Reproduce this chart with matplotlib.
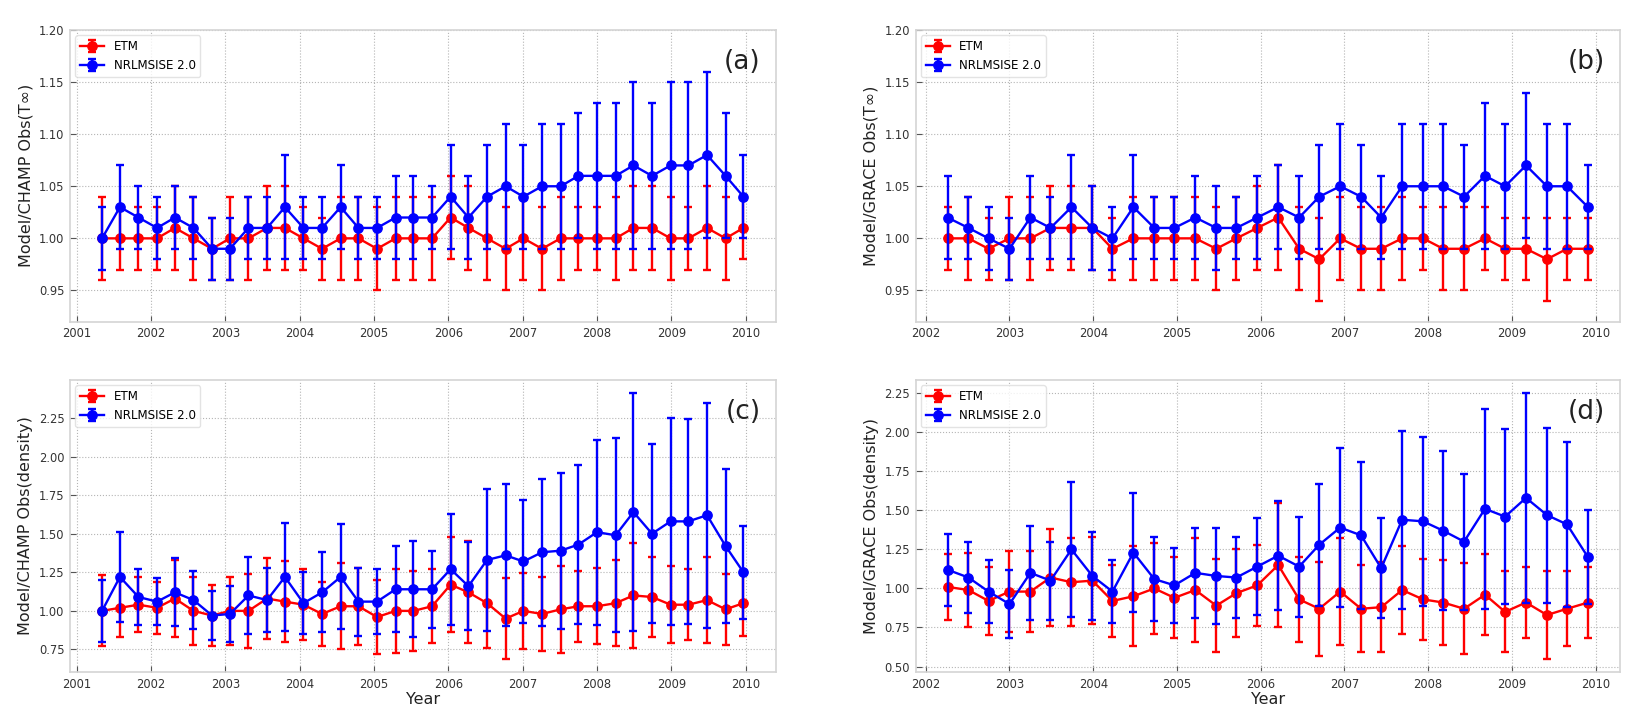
import matplotlib
matplotlib.use("Agg")
import matplotlib.pyplot as plt
import numpy as np

# ---------------- data ----------------
x_champ = [2001.34, 2001.58, 2001.83, 2002.08, 2002.32, 2002.57, 2002.82, 2003.06, 2003.31,
           2003.56, 2003.80, 2004.05, 2004.30, 2004.55, 2004.79, 2005.04, 2005.29, 2005.53,
           2005.78, 2006.03, 2006.27, 2006.52, 2006.77, 2007.01, 2007.26, 2007.51, 2007.75,
           2008.00, 2008.25, 2008.49, 2008.74, 2008.99, 2009.23, 2009.48, 2009.73, 2009.97]
x_grace = [2002.26, 2002.51, 2002.75, 2003.00, 2003.25, 2003.49, 2003.74, 2003.99, 2004.23,
           2004.48, 2004.73, 2004.97, 2005.22, 2005.47, 2005.71, 2005.96, 2006.21, 2006.46,
           2006.70, 2006.95, 2007.20, 2007.44, 2007.69, 2007.94, 2008.18, 2008.43, 2008.68,
           2008.92, 2009.17, 2009.42, 2009.66, 2009.91]

# (a) CHAMP temperature
a_etm = [1.00, 1.00, 1.00, 1.00, 1.01, 1.00, 0.99, 1.00, 1.00, 1.01, 1.01, 1.00, 0.99, 1.00, 1.00, 0.99,
         1.00, 1.00, 1.00, 1.02, 1.01, 1.00, 0.99, 1.00, 0.99, 1.00, 1.00, 1.00, 1.00, 1.01, 1.01, 1.00,
         1.00, 1.01, 1.00, 1.01]
a_etm_err = [0.04, 0.03, 0.03, 0.03, 0.04, 0.04, 0.03, 0.04, 0.04, 0.04, 0.04, 0.03, 0.03, 0.04, 0.04, 0.04,
             0.04, 0.04, 0.04, 0.04, 0.04, 0.04, 0.04, 0.04, 0.04, 0.04, 0.03, 0.03, 0.04, 0.04, 0.04, 0.04,
             0.03, 0.04, 0.04, 0.03]
a_nrl = [1.00, 1.03, 1.02, 1.01, 1.02, 1.01, 0.99, 0.99, 1.01, 1.01, 1.03, 1.01, 1.01, 1.03, 1.01, 1.01,
         1.02, 1.02, 1.02, 1.04, 1.02, 1.04, 1.05, 1.04, 1.05, 1.05, 1.06, 1.06, 1.06, 1.07, 1.06, 1.07,
         1.07, 1.08, 1.06, 1.04]
a_nrl_err = [0.03, 0.04, 0.03, 0.03, 0.03, 0.03, 0.03, 0.03, 0.03, 0.03, 0.05, 0.03, 0.03, 0.04, 0.03, 0.03,
             0.04, 0.04, 0.03, 0.05, 0.04, 0.05, 0.06, 0.05, 0.06, 0.06, 0.06, 0.07, 0.07, 0.08, 0.07, 0.08,
             0.08, 0.08, 0.06, 0.04]

# (b) GRACE temperature
b_etm = [1.00, 1.00, 0.99, 1.00, 1.00, 1.01, 1.01, 1.01, 0.99, 1.00, 1.00, 1.00, 1.00, 0.99, 1.00, 1.01,
         1.02, 0.99, 0.98, 1.00, 0.99, 0.99, 1.00, 1.00, 0.99, 0.99, 1.00, 0.99, 0.99, 0.98, 0.99, 0.99]
b_etm_err = [0.03, 0.04, 0.03, 0.04, 0.04, 0.04, 0.04, 0.04, 0.03, 0.04, 0.04, 0.04, 0.04, 0.04, 0.04, 0.04,
             0.05, 0.04, 0.04, 0.04, 0.04, 0.04, 0.04, 0.03, 0.04, 0.04, 0.03, 0.03, 0.03, 0.04, 0.03, 0.03]
b_nrl = [1.02, 1.01, 1.00, 0.99, 1.02, 1.01, 1.03, 1.01, 1.00, 1.03, 1.01, 1.01, 1.02, 1.01, 1.01, 1.02,
         1.03, 1.02, 1.04, 1.05, 1.04, 1.02, 1.05, 1.05, 1.05, 1.04, 1.06, 1.05, 1.07, 1.05, 1.05, 1.03]
b_nrl_err = [0.04, 0.03, 0.03, 0.03, 0.04, 0.03, 0.05, 0.04, 0.03, 0.05, 0.03, 0.03, 0.04, 0.04, 0.03, 0.04,
             0.04, 0.04, 0.05, 0.06, 0.05, 0.04, 0.06, 0.06, 0.06, 0.05, 0.07, 0.06, 0.07, 0.06, 0.06, 0.04]

# (c) CHAMP density
c_etm = [1.00, 1.02, 1.04, 1.02, 1.08, 1.00, 0.97, 1.00, 1.00, 1.08, 1.06, 1.04, 0.98, 1.03, 1.03, 0.96,
         1.00, 1.00, 1.03, 1.17, 1.12, 1.05, 0.95, 1.00, 0.98, 1.01, 1.03, 1.03, 1.05, 1.10, 1.09, 1.04,
         1.04, 1.07, 1.01, 1.05]
c_etm_err = [0.23, 0.19, 0.18, 0.17, 0.25, 0.22, 0.20, 0.22, 0.24, 0.26, 0.26, 0.23, 0.21, 0.28, 0.25, 0.24,
             0.27, 0.26, 0.24, 0.31, 0.33, 0.29, 0.26, 0.245, 0.24, 0.28, 0.23, 0.245, 0.28, 0.34, 0.26, 0.25,
             0.23, 0.28, 0.23, 0.21]
c_nrl = [1.00, 1.22, 1.09, 1.06, 1.12, 1.07, 0.97, 0.98, 1.10, 1.07, 1.22, 1.05, 1.12, 1.22, 1.06, 1.06,
         1.14, 1.14, 1.14, 1.27, 1.16, 1.33, 1.36, 1.32, 1.38, 1.39, 1.43, 1.51, 1.49, 1.64, 1.50, 1.58,
         1.58, 1.62, 1.42, 1.25]
c_nrl_err = [0.20, 0.29, 0.18, 0.15, 0.22, 0.19, 0.16, 0.18, 0.25, 0.21, 0.35, 0.20, 0.26, 0.34, 0.22, 0.21,
             0.28, 0.31, 0.25, 0.36, 0.285, 0.46, 0.46, 0.40, 0.475, 0.505, 0.515, 0.60, 0.63, 0.77, 0.58, 0.67,
             0.665, 0.73, 0.50, 0.30]

# (d) GRACE density
d_etm = [1.01, 0.99, 0.92, 0.98, 0.98, 1.07, 1.04, 1.05, 0.92, 0.95, 1.00, 0.94, 0.99, 0.89, 0.97, 1.02,
         1.15, 0.93, 0.87, 0.98, 0.87, 0.88, 0.99, 0.93, 0.91, 0.87, 0.96, 0.85, 0.91, 0.83, 0.87, 0.91]
d_etm_err = [0.21, 0.24, 0.22, 0.26, 0.26, 0.31, 0.28, 0.28, 0.23, 0.32, 0.29, 0.26, 0.33, 0.30, 0.28, 0.26,
             0.40, 0.27, 0.30, 0.34, 0.28, 0.29, 0.28, 0.26, 0.27, 0.29, 0.26, 0.26, 0.23, 0.28, 0.24, 0.23]
d_nrl = [1.12, 1.07, 0.98, 0.90, 1.10, 1.05, 1.25, 1.08, 0.98, 1.23, 1.06, 1.02, 1.10, 1.08, 1.07, 1.14,
         1.21, 1.14, 1.28, 1.39, 1.34, 1.13, 1.44, 1.43, 1.37, 1.30, 1.51, 1.46, 1.58, 1.47, 1.41, 1.20]
d_nrl_err = [0.23, 0.23, 0.20, 0.22, 0.30, 0.25, 0.43, 0.28, 0.20, 0.38, 0.27, 0.24, 0.29, 0.31, 0.26, 0.31,
             0.35, 0.32, 0.39, 0.51, 0.47, 0.32, 0.57, 0.54, 0.51, 0.435, 0.64, 0.56, 0.67, 0.56, 0.53, 0.30]

ylabels = ["Model/CHAMP Obs(T\u221e)", "Model/GRACE Obs(T\u221e)",
           "Model/CHAMP Obs(density)", "Model/GRACE Obs(density)"]
panel_tags = ["(a)", "(b)", "(c)", "(d)"]
series_names = ["ETM", "NRLMSISE 2.0"]
xticks_champ = [2001, 2002, 2003, 2004, 2005, 2006, 2007, 2008, 2009, 2010]
xticks_grace = [2002, 2003, 2004, 2005, 2006, 2007, 2008, 2009, 2010]
yticks_temp = [0.95, 1.00, 1.05, 1.10, 1.15, 1.20]
yticks_c = [0.75, 1.00, 1.25, 1.50, 1.75, 2.00, 2.25]
yticks_d = [0.50, 0.75, 1.00, 1.25, 1.50, 1.75, 2.00, 2.25]

# ---------------- figure ----------------
W, H = 1644, 721
fig = plt.figure(figsize=(W / 100, H / 100), dpi=100)
fig.patch.set_facecolor("white")

def px_axes(l, t, r, b):
    return fig.add_axes([l / W, 1 - b / H, (r - l) / W, (b - t) / H])

axes = [px_axes(70, 30, 775.5, 321.7), px_axes(915.5, 30, 1620, 321.7),
        px_axes(70, 380, 775.5, 672), px_axes(915.5, 380, 1620, 672)]

panels = [
    (x_champ, a_etm, a_etm_err, a_nrl, a_nrl_err, xticks_champ, yticks_temp, (0.92, 1.20)),
    (x_grace, b_etm, b_etm_err, b_nrl, b_nrl_err, xticks_grace, yticks_temp, (0.92, 1.20)),
    (x_champ, c_etm, c_etm_err, c_nrl, c_nrl_err, xticks_champ, yticks_c, None),
    (x_grace, d_etm, d_etm_err, d_nrl, d_nrl_err, xticks_grace, yticks_d, None),
]

for i, (ax, p) in enumerate(zip(axes, panels)):
    xs, e, ee, n, ne, xt, yt, yl = p
    ax.set_facecolor("white")
    ax.errorbar(xs, e, yerr=ee, fmt="-o", color="red", lw=1.7, ms=6.7,
                elinewidth=1.7, capsize=3.2, capthick=1.7, label=series_names[0], zorder=3)
    ax.errorbar(xs, n, yerr=ne, fmt="-o", color="blue", lw=1.7, ms=6.7,
                elinewidth=1.7, capsize=3.2, capthick=1.7, label=series_names[1], zorder=4)
    ax.margins(x=0.05, y=0.05)
    if yl is not None:
        ax.set_ylim(*yl)
    ax.set_xticks(xt)
    ax.set_xticklabels([str(v) for v in xt])
    ax.set_yticks(yt)
    ax.set_yticklabels(["%.2f" % v for v in yt])
    if yl is None:
        ax.autoscale(enable=True, axis="y")
    ax.grid(True, linestyle=":", color="#b5b5b5", lw=0.8, zorder=0)
    ax.set_axisbelow(True)
    for s in ax.spines.values():
        s.set_color("#d4d4d4")
        s.set_linewidth(1.2)
    ax.tick_params(direction="in", length=4, width=0.8, color="#555555",
                   labelsize=8.3, labelcolor="#333333", pad=4)
    ax.set_ylabel(ylabels[i], fontsize=11.5, color="#222222")
    if i >= 2:
        ax.set_xlabel("Year", fontsize=11.5, color="#222222", labelpad=1)
    ax.legend(loc="upper left", fontsize=8.6, framealpha=0.8, edgecolor="#dddddd",
              borderaxespad=0.45)
    ax.text(0.979, 0.89, panel_tags[i], transform=ax.transAxes, ha="right", va="center",
            fontsize=19, color="#222222")

fig.savefig("out.png", dpi=100, facecolor="white")
